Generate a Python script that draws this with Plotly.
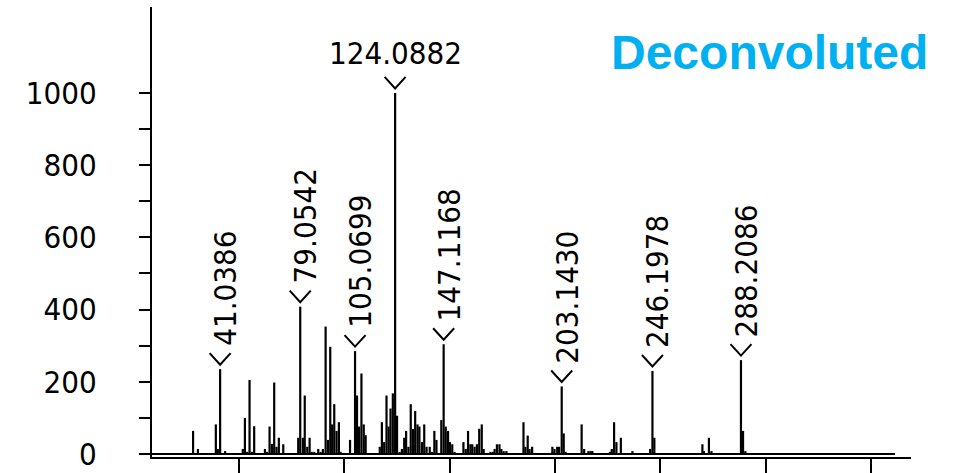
import plotly.graph_objects as go

# Deconvoluted product-ion spectrum: m/z and relative abundance of each centroid
mz = [
    28.2, 30.5, 39.0, 39.95, 41.0386, 43.4,
    51.8, 52.8, 53.9, 55.0, 56.1, 57.2, 62.3, 63.3, 64.5, 65.6, 66.7, 67.8, 68.9, 71.0,
    78.1, 79.0542, 80.3, 81.2, 82.4, 83.5, 84.5, 85.7, 87.6, 88.7, 89.8, 91.1, 92.2,
    93.3, 94.2, 95.2, 96.3, 97.4, 98.2,
    102.7, 105.0699, 106.0, 107.0, 108.1, 109.2, 110.1,
    116.8, 117.8, 118.9, 120.0, 121.0, 121.9, 123.0, 124.0882, 125.0, 126.2, 127.3,
    128.4, 129.3, 130.4, 131.5, 132.6, 133.6, 134.7, 135.6, 136.8, 137.9, 139.0,
    140.5, 141.6, 142.7, 143.7, 146.0, 147.1168, 148.1, 149.2, 150.1, 151.2, 152.3,
    156.5, 157.6, 158.7, 159.8, 160.7, 161.8, 162.9, 164.0, 165.2, 166.1,
    169.3, 170.4, 171.3, 172.4, 173.6, 174.5, 175.6, 176.9,
    185.0, 185.9, 187.0, 187.9, 189.1, 198.7, 199.7, 201.0, 201.9, 203.1430, 204.1,
    205.0, 212.6, 213.8, 215.8, 216.8, 217.7,
    226.0, 226.9, 228.0, 229.1, 231.2, 236.7, 245.1, 246.1978, 247.1,
    269.9, 270.6, 273.0, 274.2, 288.2086, 289.2, 290.3,
]
abundance = [
    64, 14, 82, 14, 235, 8,
    14, 100, 6, 205, 6, 77, 14, 6, 76, 28, 198, 20, 45, 27,
    45, 408, 45, 162, 20, 45, 6, 6, 14, 6, 14, 353, 39,
    297, 82, 138, 64, 88, 6,
    39, 285, 162, 76, 223, 82, 52,
    20, 88, 33, 162, 76, 126, 168, 1000, 106, 6, 14,
    45, 64, 20, 138, 69, 119, 82, 76, 33, 82, 20,
    20, 6, 64, 39, 94, 304, 76, 64, 33, 27, 6,
    33, 14, 64, 27, 27, 20, 27, 70, 82, 14,
    6, 6, 14, 27, 27, 14, 8, 8,
    88, 20, 51, 14, 20, 20, 14, 20, 20, 187, 57,
    6, 82, 14, 8, 8, 8,
    6, 14, 88, 33, 45, 8, 14, 230, 45,
    27, 8, 45, 8, 260, 64, 8,
]

# Annotated fragment ions
labelled_mz = [41.0386, 79.0542, 105.0699, 124.0882, 147.1168, 203.1430, 246.1978, 288.2086]
labelled_text = ["41.0386", "79.0542", "105.0699", "124.0882", "147.1168", "203.1430", "246.1978", "288.2086"]

# Acquisition window and axis layout
scan_range = [8.71, 361.3]
x_range = [8.71, 368.9]
x_ticks = [50, 100, 150, 200, 250, 300, 350]
y_range = [-8.3, 1238]
y_major = [0, 200, 400, 600, 800, 1000]
y_minor = [100, 300, 500, 700, 900]

LABEL_FONT = "DejaVu Sans Condensed, DejaVu Sans, sans-serif"
CHEVRON = "M-10.5,16 L0,4.5 L10.5,16"   # open "v" marker, pixels relative to the peak apex

# Stick spectrum: one vertical segment per centroid
xs, ys = [], []
for m, a in zip(mz, abundance):
    xs += [m, m, None]
    ys += [0, a, None]

fig = go.Figure()
fig.add_trace(go.Scatter(
    x=scan_range, y=[0, 0], mode="lines",
    line=dict(color="black", width=2), hoverinfo="skip", showlegend=False,
))
fig.add_trace(go.Scatter(
    x=xs, y=ys, mode="lines",
    line=dict(color="black", width=2.2), hoverinfo="skip", showlegend=False,
))

abund_of = dict(zip(mz, abundance))
base_peak = max(abundance)
for m, t in zip(labelled_mz, labelled_text):
    a = abund_of[m]
    fig.add_shape(type="path", xref="x", yref="y",
                  xsizemode="pixel", ysizemode="pixel", xanchor=m, yanchor=a,
                  path=CHEVRON, line=dict(color="black", width=2))
    if a == base_peak:
        # base peak: value written horizontally above the marker
        fig.add_annotation(x=m, y=a, text=t, showarrow=False,
                           xanchor="center", yanchor="bottom", yshift=20,
                           font=dict(family=LABEL_FONT, size=31, color="black"))
    else:
        fig.add_annotation(x=m, y=a, text=t, textangle=-90, showarrow=False,
                           xanchor="center", yanchor="bottom", xshift=5, yshift=21,
                           font=dict(family=LABEL_FONT, size=31, color="black"))

fig.add_annotation(xref="paper", yref="paper", x=1.025, y=0.962, text="<b>Deconvoluted</b>",
                   showarrow=False, xanchor="right", yanchor="top",
                   font=dict(family="Liberation Sans, Arial, sans-serif", size=48, color="#00B0F0"))

fig.update_layout(
    width=959, height=473,
    margin=dict(l=152, r=48, t=7, b=16, autoexpand=False),
    paper_bgcolor="white", plot_bgcolor="white",
    showlegend=False,
    xaxis=dict(
        range=x_range, showgrid=False, zeroline=False, automargin=False,
        showline=True, linecolor="black", linewidth=2,
        tickmode="array", tickvals=x_ticks, showticklabels=False,
        ticks="outside", ticklen=20, tickwidth=2, tickcolor="black",
    ),
    yaxis=dict(
        range=y_range, showgrid=False, zeroline=False, automargin=False,
        showline=True, linecolor="black", linewidth=2,
        tickmode="array", tickvals=y_major,
        ticks="outside", ticklen=11, tickwidth=2, tickcolor="black",
        ticklabelstandoff=36,
        tickfont=dict(family=LABEL_FONT, size=31, color="black"),
        minor=dict(tickmode="array", tickvals=y_minor, ticks="outside",
                   ticklen=11, tickwidth=2, tickcolor="black", showgrid=False),
    ),
)

fig.write_html("out.html")
